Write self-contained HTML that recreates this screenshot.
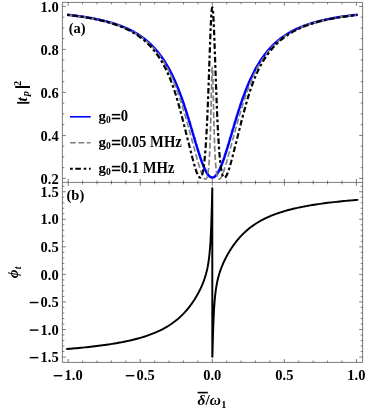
<!DOCTYPE html>
<html><head><meta charset="utf-8"><title>plot</title>
<style>html,body{margin:0;padding:0;background:#fff;}body{width:374px;height:417px;overflow:hidden;font-family:"Liberation Serif",serif;}svg{display:block;will-change:transform;}</style>
</head><body>
<svg width="374" height="417" viewBox="0 0 374 417">
<rect width="374" height="417" fill="#fff"/>
<defs><clipPath id="ct"><rect x="62.4" y="2.4" width="300.20000000000005" height="180.0"/></clipPath></defs>
<g fill="none" stroke-linejoin="round">
<path d="M67.05 14.73 L68.52 14.89 L69.99 15.06 L71.47 15.23 L72.94 15.41 L74.42 15.59 L75.89 15.78 L77.36 15.98 L78.84 16.18 L80.31 16.39 L81.79 16.60 L83.26 16.82 L84.73 17.05 L86.21 17.28 L87.68 17.52 L89.15 17.77 L90.63 18.03 L92.10 18.30 L93.58 18.57 L95.05 18.86 L96.52 19.15 L98.00 19.46 L99.47 19.78 L100.95 20.11 L102.42 20.44 L103.89 20.80 L105.37 21.16 L106.84 21.54 L108.31 21.93 L109.79 22.34 L111.26 22.77 L112.74 23.21 L114.21 23.66 L115.68 24.14 L117.16 24.63 L118.63 25.15 L120.11 25.68 L121.58 26.24 L123.05 26.83 L124.53 27.43 L126.00 28.06 L127.47 28.72 L128.95 29.41 L130.42 30.13 L131.90 30.89 L133.37 31.67 L134.84 32.50 L136.32 33.36 L137.79 34.26 L139.27 35.20 L140.74 36.19 L142.21 37.23 L143.69 38.32 L145.16 39.46 L146.63 40.66 L148.11 41.93 L149.58 43.25 L151.06 44.64 L152.53 46.11 L154.00 47.65 L155.48 49.28 L156.95 50.99 L158.42 52.79 L159.90 54.69 L161.37 56.69 L162.85 58.81 L164.32 61.03 L165.79 63.38 L167.27 65.85 L168.74 68.46 L170.22 71.21 L171.69 74.10 L173.16 77.15 L174.64 80.35 L176.11 83.72 L177.58 87.26 L179.06 90.97 L180.53 94.85 L182.01 98.90 L183.48 103.12 L183.55 103.33 L183.62 103.54 L183.70 103.75 L183.77 103.96 L183.84 104.17 L183.91 104.39 L183.98 104.60 L184.06 104.81 L184.13 105.03 L184.20 105.24 L184.27 105.45 L184.34 105.67 L184.42 105.88 L184.49 106.10 L184.56 106.32 L184.63 106.53 L184.70 106.75 L184.78 106.97 L184.85 107.18 L184.92 107.40 L184.99 107.62 L185.07 107.84 L185.14 108.06 L185.21 108.28 L185.28 108.49 L185.35 108.71 L185.43 108.93 L185.50 109.16 L185.57 109.38 L185.64 109.60 L185.71 109.82 L185.79 110.04 L185.86 110.26 L185.93 110.49 L186.00 110.71 L186.07 110.93 L186.15 111.16 L186.22 111.38 L186.29 111.60 L186.36 111.83 L186.43 112.05 L186.51 112.28 L186.58 112.51 L186.65 112.73 L186.72 112.96 L186.79 113.18 L186.87 113.41 L186.94 113.64 L187.01 113.87 L187.08 114.09 L187.15 114.32 L187.23 114.55 L187.30 114.78 L187.37 115.01 L187.44 115.24 L187.51 115.47 L187.59 115.70 L187.66 115.93 L187.73 116.16 L187.80 116.39 L187.88 116.62 L187.95 116.85 L188.02 117.09 L188.09 117.32 L188.16 117.55 L188.24 117.78 L188.31 118.02 L188.38 118.25 L188.45 118.48 L188.52 118.72 L188.60 118.95 L188.67 119.19 L188.74 119.42 L188.81 119.66 L188.88 119.89 L188.96 120.13 L189.03 120.36 L189.10 120.60 L189.17 120.83 L189.24 121.07 L189.32 121.31 L189.39 121.54 L189.46 121.78 L189.53 122.02 L189.60 122.26 L189.68 122.49 L189.75 122.73 L189.82 122.97 L189.89 123.21 L189.96 123.45 L190.04 123.68 L190.11 123.92 L190.18 124.16 L190.25 124.40 L190.32 124.64 L190.40 124.88 L190.47 125.12 L190.54 125.36 L190.61 125.60 L190.69 125.84 L190.76 126.08 L190.83 126.32 L190.90 126.56 L190.97 126.81 L191.05 127.05 L191.12 127.29 L191.19 127.53 L191.26 127.77 L191.33 128.01 L191.41 128.26 L191.48 128.50 L191.55 128.74 L191.62 128.98 L191.69 129.22 L191.77 129.47 L191.84 129.71 L191.91 129.95 L191.98 130.20 L192.05 130.44 L192.13 130.68 L192.20 130.92 L192.27 131.17 L192.34 131.41 L192.41 131.65 L192.49 131.90 L192.56 132.14 L192.63 132.38 L192.70 132.63 L192.77 132.87 L192.85 133.12 L192.92 133.36 L192.99 133.60 L193.06 133.85 L193.13 134.09 L193.21 134.33 L193.28 134.58 L193.35 134.82 L193.42 135.07 L193.49 135.31 L193.57 135.55 L193.64 135.80 L193.71 136.04 L193.78 136.28 L193.86 136.53 L193.93 136.77 L194.00 137.01 L194.07 137.26 L194.14 137.50 L194.22 137.74 L194.29 137.99 L194.36 138.23 L194.43 138.47 L194.50 138.72 L194.58 138.96 L194.65 139.20 L194.72 139.45 L194.79 139.69 L194.86 139.93 L194.94 140.17 L195.01 140.42 L195.08 140.66 L195.15 140.90 L195.22 141.14 L195.30 141.38 L195.37 141.63 L195.44 141.87 L195.51 142.11 L195.58 142.35 L195.66 142.59 L195.73 142.83 L195.80 143.07 L195.87 143.31 L195.94 143.55 L196.02 143.79 L196.09 144.03 L196.16 144.27 L196.23 144.51 L196.30 144.75 L196.38 144.99 L196.45 145.23 L196.52 145.46 L196.59 145.70 L196.67 145.94 L196.74 146.18 L196.81 146.41 L196.88 146.65 L196.95 146.89 L197.03 147.12 L197.10 147.36 L197.17 147.59 L197.24 147.83 L197.31 148.06 L197.39 148.30 L197.46 148.53 L197.53 148.77 L197.60 149.00 L197.67 149.23 L197.75 149.47 L197.82 149.70 L197.89 149.93 L197.96 150.16 L198.03 150.39 L198.11 150.62 L198.18 150.85 L198.25 151.08 L198.32 151.31 L198.39 151.54 L198.47 151.77 L198.54 152.00 L198.61 152.22 L198.68 152.45 L198.75 152.68 L198.83 152.90 L198.90 153.13 L198.97 153.35 L199.04 153.58 L199.11 153.80 L199.19 154.02 L199.26 154.25 L199.33 154.47 L199.40 154.69 L199.48 154.91 L199.55 155.13 L199.62 155.35 L199.69 155.57 L199.76 155.79 L199.84 156.01 L199.91 156.22 L199.98 156.44 L200.05 156.66 L200.12 156.87 L200.20 157.09 L200.27 157.30 L200.34 157.51 L200.41 157.73 L200.48 157.94 L200.56 158.15 L200.63 158.36 L200.70 158.57 L200.77 158.78 L200.84 158.99 L200.92 159.20 L200.99 159.40 L201.06 159.61 L201.13 159.81 L201.20 160.02 L201.28 160.22 L201.35 160.43 L201.42 160.63 L201.49 160.83 L201.56 161.03 L201.64 161.23 L201.71 161.43 L201.78 161.63 L201.85 161.82 L201.92 162.02 L202.00 162.22 L202.07 162.41 L202.14 162.61 L202.21 162.80 L202.29 162.99 L202.36 163.18 L202.43 163.37 L202.50 163.56 L202.57 163.75 L202.65 163.94 L202.72 164.12 L202.79 164.31 L202.86 164.49 L202.93 164.68 L203.01 164.86 L203.08 165.04 L203.15 165.22 L203.22 165.40 L203.29 165.58 L203.37 165.76 L203.44 165.93 L203.51 166.11 L203.58 166.28 L203.65 166.46 L203.73 166.63 L203.80 166.80 L203.87 166.97 L203.94 167.14 L204.01 167.31 L204.09 167.47 L204.16 167.64 L204.23 167.80 L204.30 167.97 L204.37 168.13 L204.45 168.29 L204.52 168.45 L204.59 168.61 L204.66 168.77 L204.73 168.92 L204.81 169.08 L204.88 169.23 L204.95 169.39 L205.02 169.54 L205.09 169.69 L205.17 169.84 L205.24 169.98 L205.31 170.13 L205.38 170.28 L205.46 170.42 L205.53 170.56 L205.60 170.71 L205.67 170.85 L205.74 170.99 L205.82 171.12 L205.89 171.26 L205.96 171.40 L206.03 171.53 L206.10 171.66 L206.18 171.79 L206.25 171.92 L206.32 172.05 L206.39 172.18 L206.46 172.31 L206.54 172.43 L206.61 172.55 L206.68 172.67 L206.75 172.80 L206.82 172.91 L206.90 173.03 L206.97 173.15 L207.04 173.26 L207.11 173.38 L207.18 173.49 L207.26 173.60 L207.33 173.71 L207.40 173.82 L207.47 173.92 L207.54 174.03 L207.62 174.13 L207.69 174.23 L207.76 174.33 L207.83 174.43 L207.90 174.53 L207.98 174.63 L208.05 174.72 L208.12 174.82 L208.19 174.91 L208.27 175.00 L208.34 175.09 L208.41 175.17 L208.48 175.26 L208.55 175.34 L208.63 175.43 L208.70 175.51 L208.77 175.59 L208.84 175.66 L208.91 175.74 L208.99 175.82 L209.06 175.89 L209.13 175.96 L209.20 176.03 L209.27 176.10 L209.35 176.17 L209.42 176.23 L209.49 176.30 L209.56 176.36 L209.63 176.42 L209.71 176.48 L209.78 176.54 L209.85 176.59 L209.92 176.65 L209.99 176.70 L210.07 176.75 L210.14 176.80 L210.21 176.85 L210.28 176.90 L210.35 176.94 L210.43 176.99 L210.50 177.03 L210.57 177.07 L210.64 177.11 L210.71 177.14 L210.79 177.18 L210.86 177.21 L210.93 177.24 L211.00 177.27 L211.08 177.30 L211.15 177.33 L211.22 177.36 L211.29 177.38 L211.36 177.40 L211.44 177.42 L211.51 177.44 L211.58 177.46 L211.65 177.47 L211.72 177.49 L211.80 177.50 L211.87 177.51 L211.94 177.52 L212.01 177.53 L212.08 177.53 L212.16 177.54 L212.23 177.54 L212.30 177.54 L212.37 177.54 L212.44 177.54 L212.52 177.53 L212.59 177.53 L212.66 177.52 L212.73 177.51 L212.80 177.50 L212.88 177.49 L212.95 177.47 L213.02 177.46 L213.09 177.44 L213.16 177.42 L213.24 177.40 L213.31 177.38 L213.38 177.36 L213.45 177.33 L213.52 177.30 L213.60 177.27 L213.67 177.24 L213.74 177.21 L213.81 177.18 L213.89 177.14 L213.96 177.11 L214.03 177.07 L214.10 177.03 L214.17 176.99 L214.25 176.94 L214.32 176.90 L214.39 176.85 L214.46 176.80 L214.53 176.75 L214.61 176.70 L214.68 176.65 L214.75 176.59 L214.82 176.54 L214.89 176.48 L214.97 176.42 L215.04 176.36 L215.11 176.30 L215.18 176.23 L215.25 176.17 L215.33 176.10 L215.40 176.03 L215.47 175.96 L215.54 175.89 L215.61 175.82 L215.69 175.74 L215.76 175.66 L215.83 175.59 L215.90 175.51 L215.97 175.43 L216.05 175.34 L216.12 175.26 L216.19 175.17 L216.26 175.09 L216.33 175.00 L216.41 174.91 L216.48 174.82 L216.55 174.72 L216.62 174.63 L216.70 174.53 L216.77 174.43 L216.84 174.33 L216.91 174.23 L216.98 174.13 L217.06 174.03 L217.13 173.92 L217.20 173.82 L217.27 173.71 L217.34 173.60 L217.42 173.49 L217.49 173.38 L217.56 173.26 L217.63 173.15 L217.70 173.03 L217.78 172.91 L217.85 172.80 L217.92 172.67 L217.99 172.55 L218.06 172.43 L218.14 172.31 L218.21 172.18 L218.28 172.05 L218.35 171.92 L218.42 171.79 L218.50 171.66 L218.57 171.53 L218.64 171.40 L218.71 171.26 L218.78 171.12 L218.86 170.99 L218.93 170.85 L219.00 170.71 L219.07 170.56 L219.14 170.42 L219.22 170.28 L219.29 170.13 L219.36 169.98 L219.43 169.84 L219.50 169.69 L219.58 169.54 L219.65 169.39 L219.72 169.23 L219.79 169.08 L219.87 168.92 L219.94 168.77 L220.01 168.61 L220.08 168.45 L220.15 168.29 L220.23 168.13 L220.30 167.97 L220.37 167.80 L220.44 167.64 L220.51 167.47 L220.59 167.31 L220.66 167.14 L220.73 166.97 L220.80 166.80 L220.87 166.63 L220.95 166.46 L221.02 166.28 L221.09 166.11 L221.16 165.93 L221.23 165.76 L221.31 165.58 L221.38 165.40 L221.45 165.22 L221.52 165.04 L221.59 164.86 L221.67 164.68 L221.74 164.49 L221.81 164.31 L221.88 164.12 L221.95 163.94 L222.03 163.75 L222.10 163.56 L222.17 163.37 L222.24 163.18 L222.31 162.99 L222.39 162.80 L222.46 162.61 L222.53 162.41 L222.60 162.22 L222.68 162.02 L222.75 161.82 L222.82 161.63 L222.89 161.43 L222.96 161.23 L223.04 161.03 L223.11 160.83 L223.18 160.63 L223.25 160.43 L223.32 160.22 L223.40 160.02 L223.47 159.81 L223.54 159.61 L223.61 159.40 L223.68 159.20 L223.76 158.99 L223.83 158.78 L223.90 158.57 L223.97 158.36 L224.04 158.15 L224.12 157.94 L224.19 157.73 L224.26 157.51 L224.33 157.30 L224.40 157.09 L224.48 156.87 L224.55 156.66 L224.62 156.44 L224.69 156.22 L224.76 156.01 L224.84 155.79 L224.91 155.57 L224.98 155.35 L225.05 155.13 L225.12 154.91 L225.20 154.69 L225.27 154.47 L225.34 154.25 L225.41 154.02 L225.49 153.80 L225.56 153.58 L225.63 153.35 L225.70 153.13 L225.77 152.90 L225.85 152.68 L225.92 152.45 L225.99 152.22 L226.06 152.00 L226.13 151.77 L226.21 151.54 L226.28 151.31 L226.35 151.08 L226.42 150.85 L226.49 150.62 L226.57 150.39 L226.64 150.16 L226.71 149.93 L226.78 149.70 L226.85 149.47 L226.93 149.23 L227.00 149.00 L227.07 148.77 L227.14 148.53 L227.21 148.30 L227.29 148.06 L227.36 147.83 L227.43 147.59 L227.50 147.36 L227.57 147.12 L227.65 146.89 L227.72 146.65 L227.79 146.41 L227.86 146.18 L227.93 145.94 L228.01 145.70 L228.08 145.46 L228.15 145.23 L228.22 144.99 L228.30 144.75 L228.37 144.51 L228.44 144.27 L228.51 144.03 L228.58 143.79 L228.66 143.55 L228.73 143.31 L228.80 143.07 L228.87 142.83 L228.94 142.59 L229.02 142.35 L229.09 142.11 L229.16 141.87 L229.23 141.63 L229.30 141.38 L229.38 141.14 L229.45 140.90 L229.52 140.66 L229.59 140.42 L229.66 140.17 L229.74 139.93 L229.81 139.69 L229.88 139.45 L229.95 139.20 L230.02 138.96 L230.10 138.72 L230.17 138.47 L230.24 138.23 L230.31 137.99 L230.38 137.74 L230.46 137.50 L230.53 137.26 L230.60 137.01 L230.67 136.77 L230.74 136.53 L230.82 136.28 L230.89 136.04 L230.96 135.80 L231.03 135.55 L231.11 135.31 L231.18 135.07 L231.25 134.82 L231.32 134.58 L231.39 134.33 L231.47 134.09 L231.54 133.85 L231.61 133.60 L231.68 133.36 L231.75 133.12 L231.83 132.87 L231.90 132.63 L231.97 132.38 L232.04 132.14 L232.11 131.90 L232.19 131.65 L232.26 131.41 L232.33 131.17 L232.40 130.92 L232.47 130.68 L232.55 130.44 L232.62 130.20 L232.69 129.95 L232.76 129.71 L232.83 129.47 L232.91 129.22 L232.98 128.98 L233.05 128.74 L233.12 128.50 L233.19 128.26 L233.27 128.01 L233.34 127.77 L233.41 127.53 L233.48 127.29 L233.55 127.05 L233.63 126.81 L233.70 126.56 L233.77 126.32 L233.84 126.08 L233.92 125.84 L233.99 125.60 L234.06 125.36 L234.13 125.12 L234.20 124.88 L234.28 124.64 L234.35 124.40 L234.42 124.16 L234.49 123.92 L234.56 123.68 L234.64 123.45 L234.71 123.21 L234.78 122.97 L234.85 122.73 L234.92 122.49 L235.00 122.26 L235.07 122.02 L235.14 121.78 L235.21 121.54 L235.28 121.31 L235.36 121.07 L235.43 120.83 L235.50 120.60 L235.57 120.36 L235.64 120.13 L235.72 119.89 L235.79 119.66 L235.86 119.42 L235.93 119.19 L236.00 118.95 L236.08 118.72 L236.15 118.48 L236.22 118.25 L236.29 118.02 L236.36 117.78 L236.44 117.55 L236.51 117.32 L236.58 117.09 L236.65 116.85 L236.72 116.62 L236.80 116.39 L236.87 116.16 L236.94 115.93 L237.01 115.70 L237.09 115.47 L237.16 115.24 L237.23 115.01 L237.30 114.78 L237.37 114.55 L237.45 114.32 L237.52 114.09 L237.59 113.87 L237.66 113.64 L237.73 113.41 L237.81 113.18 L237.88 112.96 L237.95 112.73 L238.02 112.51 L238.09 112.28 L238.17 112.05 L238.24 111.83 L238.31 111.60 L238.38 111.38 L238.45 111.16 L238.53 110.93 L238.60 110.71 L238.67 110.49 L238.74 110.26 L238.81 110.04 L238.89 109.82 L238.96 109.60 L239.03 109.38 L239.10 109.16 L239.17 108.93 L239.25 108.71 L239.32 108.49 L239.39 108.28 L239.46 108.06 L239.53 107.84 L239.61 107.62 L239.68 107.40 L239.75 107.18 L239.82 106.97 L239.90 106.75 L239.97 106.53 L240.04 106.32 L240.11 106.10 L240.18 105.88 L240.26 105.67 L240.33 105.45 L240.40 105.24 L240.47 105.03 L240.54 104.81 L240.62 104.60 L240.69 104.39 L240.76 104.17 L240.83 103.96 L240.90 103.75 L240.98 103.54 L241.05 103.33 L241.12 103.12 L242.59 98.90 L244.07 94.85 L245.54 90.97 L247.02 87.26 L248.49 83.72 L249.96 80.35 L251.44 77.15 L252.91 74.10 L254.38 71.21 L255.86 68.46 L257.33 65.85 L258.81 63.38 L260.28 61.03 L261.75 58.81 L263.23 56.69 L264.70 54.69 L266.18 52.79 L267.65 50.99 L269.12 49.28 L270.60 47.65 L272.07 46.11 L273.54 44.64 L275.02 43.25 L276.49 41.93 L277.97 40.66 L279.44 39.46 L280.91 38.32 L282.39 37.23 L283.86 36.19 L285.33 35.20 L286.81 34.26 L288.28 33.36 L289.76 32.50 L291.23 31.67 L292.70 30.89 L294.18 30.13 L295.65 29.41 L297.13 28.72 L298.60 28.06 L300.07 27.43 L301.55 26.83 L303.02 26.24 L304.49 25.68 L305.97 25.15 L307.44 24.63 L308.92 24.14 L310.39 23.66 L311.86 23.21 L313.34 22.77 L314.81 22.34 L316.29 21.93 L317.76 21.54 L319.23 21.16 L320.71 20.80 L322.18 20.44 L323.65 20.11 L325.13 19.78 L326.60 19.46 L328.08 19.15 L329.55 18.86 L331.02 18.57 L332.50 18.30 L333.97 18.03 L335.45 17.77 L336.92 17.52 L338.39 17.28 L339.87 17.05 L341.34 16.82 L342.81 16.60 L344.29 16.39 L345.76 16.18 L347.24 15.98 L348.71 15.78 L350.18 15.59 L351.66 15.41 L353.13 15.23 L354.61 15.06 L356.08 14.89 L357.55 14.73" stroke="#0000ff" stroke-width="2.5"/>
<path d="M67.05 14.77 L68.52 14.93 L69.99 15.10 L71.47 15.28 L72.94 15.46 L74.42 15.64 L75.89 15.83 L77.36 16.03 L78.84 16.23 L80.31 16.44 L81.79 16.66 L83.26 16.88 L84.73 17.11 L86.21 17.35 L87.68 17.59 L89.15 17.85 L90.63 18.11 L92.10 18.38 L93.58 18.66 L95.05 18.95 L96.52 19.25 L98.00 19.56 L99.47 19.88 L100.95 20.21 L102.42 20.56 L103.89 20.91 L105.37 21.29 L106.84 21.67 L108.31 22.07 L109.79 22.49 L111.26 22.92 L112.74 23.37 L114.21 23.83 L115.68 24.32 L117.16 24.82 L118.63 25.35 L120.11 25.90 L121.58 26.47 L123.05 27.06 L124.53 27.68 L126.00 28.33 L127.47 29.01 L128.95 29.72 L130.42 30.46 L131.90 31.23 L133.37 32.04 L134.84 32.89 L136.32 33.77 L137.79 34.70 L139.27 35.68 L140.74 36.70 L142.21 37.78 L143.69 38.91 L145.16 40.09 L146.63 41.34 L148.11 42.65 L149.58 44.03 L151.06 45.49 L152.53 47.02 L154.00 48.64 L155.48 50.34 L156.95 52.14 L158.42 54.04 L159.90 56.05 L161.37 58.17 L162.85 60.42 L164.32 62.80 L165.79 65.33 L167.27 68.01 L168.74 70.86 L170.22 73.88 L171.69 77.09 L173.16 80.50 L174.64 84.10 L176.11 87.92 L177.58 91.94 L179.06 96.16 L180.53 100.56 L182.01 105.15 L183.48 109.90 L183.55 110.14 L183.62 110.38 L183.70 110.61 L183.77 110.85 L183.84 111.09 L183.91 111.33 L183.98 111.57 L184.06 111.81 L184.13 112.04 L184.20 112.28 L184.27 112.52 L184.34 112.76 L184.42 113.01 L184.49 113.25 L184.56 113.49 L184.63 113.73 L184.70 113.97 L184.78 114.21 L184.85 114.46 L184.92 114.70 L184.99 114.94 L185.07 115.19 L185.14 115.43 L185.21 115.67 L185.28 115.92 L185.35 116.16 L185.43 116.41 L185.50 116.66 L185.57 116.90 L185.64 117.15 L185.71 117.39 L185.79 117.64 L185.86 117.89 L185.93 118.14 L186.00 118.38 L186.07 118.63 L186.15 118.88 L186.22 119.13 L186.29 119.38 L186.36 119.63 L186.43 119.88 L186.51 120.13 L186.58 120.38 L186.65 120.63 L186.72 120.88 L186.79 121.13 L186.87 121.38 L186.94 121.63 L187.01 121.89 L187.08 122.14 L187.15 122.39 L187.23 122.64 L187.30 122.90 L187.37 123.15 L187.44 123.41 L187.51 123.66 L187.59 123.91 L187.66 124.17 L187.73 124.42 L187.80 124.68 L187.88 124.93 L187.95 125.19 L188.02 125.45 L188.09 125.70 L188.16 125.96 L188.24 126.22 L188.31 126.47 L188.38 126.73 L188.45 126.99 L188.52 127.25 L188.60 127.50 L188.67 127.76 L188.74 128.02 L188.81 128.28 L188.88 128.54 L188.96 128.80 L189.03 129.06 L189.10 129.32 L189.17 129.58 L189.24 129.84 L189.32 130.10 L189.39 130.36 L189.46 130.62 L189.53 130.88 L189.60 131.14 L189.68 131.40 L189.75 131.66 L189.82 131.93 L189.89 132.19 L189.96 132.45 L190.04 132.71 L190.11 132.98 L190.18 133.24 L190.25 133.50 L190.32 133.77 L190.40 134.03 L190.47 134.29 L190.54 134.56 L190.61 134.82 L190.69 135.09 L190.76 135.35 L190.83 135.61 L190.90 135.88 L190.97 136.14 L191.05 136.41 L191.12 136.67 L191.19 136.94 L191.26 137.21 L191.33 137.47 L191.41 137.74 L191.48 138.00 L191.55 138.27 L191.62 138.54 L191.69 138.80 L191.77 139.07 L191.84 139.34 L191.91 139.60 L191.98 139.87 L192.05 140.14 L192.13 140.40 L192.20 140.67 L192.27 140.94 L192.34 141.20 L192.41 141.47 L192.49 141.74 L192.56 142.01 L192.63 142.27 L192.70 142.54 L192.77 142.81 L192.85 143.08 L192.92 143.34 L192.99 143.61 L193.06 143.88 L193.13 144.15 L193.21 144.42 L193.28 144.68 L193.35 144.95 L193.42 145.22 L193.49 145.49 L193.57 145.75 L193.64 146.02 L193.71 146.29 L193.78 146.56 L193.86 146.83 L193.93 147.09 L194.00 147.36 L194.07 147.63 L194.14 147.90 L194.22 148.16 L194.29 148.43 L194.36 148.70 L194.43 148.96 L194.50 149.23 L194.58 149.50 L194.65 149.76 L194.72 150.03 L194.79 150.30 L194.86 150.56 L194.94 150.83 L195.01 151.10 L195.08 151.36 L195.15 151.63 L195.22 151.89 L195.30 152.16 L195.37 152.42 L195.44 152.69 L195.51 152.95 L195.58 153.22 L195.66 153.48 L195.73 153.74 L195.80 154.01 L195.87 154.27 L195.94 154.53 L196.02 154.80 L196.09 155.06 L196.16 155.32 L196.23 155.58 L196.30 155.84 L196.38 156.10 L196.45 156.36 L196.52 156.62 L196.59 156.88 L196.67 157.14 L196.74 157.40 L196.81 157.66 L196.88 157.92 L196.95 158.18 L197.03 158.43 L197.10 158.69 L197.17 158.95 L197.24 159.20 L197.31 159.46 L197.39 159.71 L197.46 159.97 L197.53 160.22 L197.60 160.47 L197.67 160.72 L197.75 160.98 L197.82 161.23 L197.89 161.48 L197.96 161.73 L198.03 161.98 L198.11 162.23 L198.18 162.47 L198.25 162.72 L198.32 162.97 L198.39 163.21 L198.47 163.46 L198.54 163.70 L198.61 163.94 L198.68 164.19 L198.75 164.43 L198.83 164.67 L198.90 164.91 L198.97 165.15 L199.04 165.39 L199.11 165.62 L199.19 165.86 L199.26 166.09 L199.33 166.33 L199.40 166.56 L199.48 166.79 L199.55 167.02 L199.62 167.25 L199.69 167.48 L199.76 167.71 L199.84 167.94 L199.91 168.16 L199.98 168.39 L200.05 168.61 L200.12 168.83 L200.20 169.05 L200.27 169.27 L200.34 169.49 L200.41 169.71 L200.48 169.92 L200.56 170.14 L200.63 170.35 L200.70 170.56 L200.77 170.77 L200.84 170.98 L200.92 171.19 L200.99 171.39 L201.06 171.59 L201.13 171.80 L201.20 172.00 L201.28 172.19 L201.35 172.39 L201.42 172.59 L201.49 172.78 L201.56 172.97 L201.64 173.16 L201.71 173.35 L201.78 173.54 L201.85 173.72 L201.92 173.90 L202.00 174.08 L202.07 174.26 L202.14 174.44 L202.21 174.61 L202.29 174.78 L202.36 174.95 L202.43 175.12 L202.50 175.28 L202.57 175.44 L202.65 175.60 L202.72 175.76 L202.79 175.92 L202.86 176.07 L202.93 176.22 L203.01 176.36 L203.08 176.51 L203.15 176.65 L203.22 176.79 L203.29 176.92 L203.37 177.06 L203.44 177.19 L203.51 177.31 L203.58 177.43 L203.65 177.55 L203.73 177.67 L203.80 177.78 L203.87 177.89 L203.94 178.00 L204.01 178.10 L204.09 178.20 L204.16 178.29 L204.23 178.38 L204.30 178.47 L204.37 178.55 L204.45 178.63 L204.52 178.70 L204.59 178.77 L204.66 178.84 L204.73 178.89 L204.81 178.95 L204.88 179.00 L204.95 179.04 L205.02 179.08 L205.09 179.12 L205.17 179.14 L205.24 179.17 L205.31 179.18 L205.38 179.19 L205.46 179.20 L205.53 179.19 L205.60 179.18 L205.67 179.17 L205.74 179.14 L205.82 179.11 L205.89 179.08 L205.96 179.03 L206.03 178.97 L206.10 178.91 L206.18 178.84 L206.25 178.76 L206.32 178.67 L206.39 178.57 L206.46 178.46 L206.54 178.34 L206.61 178.21 L206.68 178.07 L206.75 177.92 L206.82 177.75 L206.90 177.57 L206.97 177.38 L207.04 177.18 L207.11 176.96 L207.18 176.73 L207.26 176.48 L207.33 176.22 L207.40 175.94 L207.47 175.64 L207.54 175.33 L207.62 174.99 L207.69 174.64 L207.76 174.27 L207.83 173.87 L207.90 173.46 L207.98 173.02 L208.05 172.55 L208.12 172.06 L208.19 171.55 L208.27 171.00 L208.34 170.43 L208.41 169.82 L208.48 169.19 L208.55 168.52 L208.63 167.81 L208.70 167.07 L208.77 166.29 L208.84 165.46 L208.91 164.60 L208.99 163.68 L209.06 162.73 L209.13 161.72 L209.20 160.66 L209.27 159.54 L209.35 158.37 L209.42 157.14 L209.49 155.84 L209.56 154.48 L209.63 153.05 L209.71 151.54 L209.78 149.96 L209.85 148.30 L209.92 146.56 L209.99 144.74 L210.07 142.83 L210.14 140.82 L210.21 138.73 L210.28 136.54 L210.35 134.25 L210.43 131.86 L210.50 129.38 L210.57 126.80 L210.64 124.11 L210.71 121.34 L210.79 118.47 L210.86 115.52 L210.93 112.50 L211.00 109.40 L211.08 106.25 L211.15 103.06 L211.22 99.84 L211.29 96.62 L211.36 93.42 L211.44 90.27 L211.51 87.19 L211.58 84.22 L211.65 81.38 L211.72 78.72 L211.80 76.27 L211.87 74.05 L211.94 72.12 L212.01 70.48 L212.08 69.18 L212.16 68.24 L212.23 67.67 L212.30 67.47 L212.37 67.67 L212.44 68.24 L212.52 69.18 L212.59 70.48 L212.66 72.12 L212.73 74.05 L212.80 76.27 L212.88 78.72 L212.95 81.38 L213.02 84.22 L213.09 87.19 L213.16 90.27 L213.24 93.42 L213.31 96.62 L213.38 99.84 L213.45 103.06 L213.52 106.25 L213.60 109.40 L213.67 112.50 L213.74 115.52 L213.81 118.47 L213.89 121.34 L213.96 124.11 L214.03 126.80 L214.10 129.38 L214.17 131.86 L214.25 134.25 L214.32 136.54 L214.39 138.73 L214.46 140.82 L214.53 142.83 L214.61 144.74 L214.68 146.56 L214.75 148.30 L214.82 149.96 L214.89 151.54 L214.97 153.05 L215.04 154.48 L215.11 155.84 L215.18 157.14 L215.25 158.37 L215.33 159.54 L215.40 160.66 L215.47 161.72 L215.54 162.73 L215.61 163.68 L215.69 164.60 L215.76 165.46 L215.83 166.29 L215.90 167.07 L215.97 167.81 L216.05 168.52 L216.12 169.19 L216.19 169.82 L216.26 170.43 L216.33 171.00 L216.41 171.55 L216.48 172.06 L216.55 172.55 L216.62 173.02 L216.70 173.46 L216.77 173.87 L216.84 174.27 L216.91 174.64 L216.98 174.99 L217.06 175.33 L217.13 175.64 L217.20 175.94 L217.27 176.22 L217.34 176.48 L217.42 176.73 L217.49 176.96 L217.56 177.18 L217.63 177.38 L217.70 177.57 L217.78 177.75 L217.85 177.92 L217.92 178.07 L217.99 178.21 L218.06 178.34 L218.14 178.46 L218.21 178.57 L218.28 178.67 L218.35 178.76 L218.42 178.84 L218.50 178.91 L218.57 178.97 L218.64 179.03 L218.71 179.08 L218.78 179.11 L218.86 179.14 L218.93 179.17 L219.00 179.18 L219.07 179.19 L219.14 179.20 L219.22 179.19 L219.29 179.18 L219.36 179.17 L219.43 179.14 L219.50 179.12 L219.58 179.08 L219.65 179.04 L219.72 179.00 L219.79 178.95 L219.87 178.89 L219.94 178.84 L220.01 178.77 L220.08 178.70 L220.15 178.63 L220.23 178.55 L220.30 178.47 L220.37 178.38 L220.44 178.29 L220.51 178.20 L220.59 178.10 L220.66 178.00 L220.73 177.89 L220.80 177.78 L220.87 177.67 L220.95 177.55 L221.02 177.43 L221.09 177.31 L221.16 177.19 L221.23 177.06 L221.31 176.92 L221.38 176.79 L221.45 176.65 L221.52 176.51 L221.59 176.36 L221.67 176.22 L221.74 176.07 L221.81 175.92 L221.88 175.76 L221.95 175.60 L222.03 175.44 L222.10 175.28 L222.17 175.12 L222.24 174.95 L222.31 174.78 L222.39 174.61 L222.46 174.44 L222.53 174.26 L222.60 174.08 L222.68 173.90 L222.75 173.72 L222.82 173.54 L222.89 173.35 L222.96 173.16 L223.04 172.97 L223.11 172.78 L223.18 172.59 L223.25 172.39 L223.32 172.19 L223.40 172.00 L223.47 171.80 L223.54 171.59 L223.61 171.39 L223.68 171.19 L223.76 170.98 L223.83 170.77 L223.90 170.56 L223.97 170.35 L224.04 170.14 L224.12 169.92 L224.19 169.71 L224.26 169.49 L224.33 169.27 L224.40 169.05 L224.48 168.83 L224.55 168.61 L224.62 168.39 L224.69 168.16 L224.76 167.94 L224.84 167.71 L224.91 167.48 L224.98 167.25 L225.05 167.02 L225.12 166.79 L225.20 166.56 L225.27 166.33 L225.34 166.09 L225.41 165.86 L225.49 165.62 L225.56 165.39 L225.63 165.15 L225.70 164.91 L225.77 164.67 L225.85 164.43 L225.92 164.19 L225.99 163.94 L226.06 163.70 L226.13 163.46 L226.21 163.21 L226.28 162.97 L226.35 162.72 L226.42 162.47 L226.49 162.23 L226.57 161.98 L226.64 161.73 L226.71 161.48 L226.78 161.23 L226.85 160.98 L226.93 160.72 L227.00 160.47 L227.07 160.22 L227.14 159.97 L227.21 159.71 L227.29 159.46 L227.36 159.20 L227.43 158.95 L227.50 158.69 L227.57 158.43 L227.65 158.18 L227.72 157.92 L227.79 157.66 L227.86 157.40 L227.93 157.14 L228.01 156.88 L228.08 156.62 L228.15 156.36 L228.22 156.10 L228.30 155.84 L228.37 155.58 L228.44 155.32 L228.51 155.06 L228.58 154.80 L228.66 154.53 L228.73 154.27 L228.80 154.01 L228.87 153.74 L228.94 153.48 L229.02 153.22 L229.09 152.95 L229.16 152.69 L229.23 152.42 L229.30 152.16 L229.38 151.89 L229.45 151.63 L229.52 151.36 L229.59 151.10 L229.66 150.83 L229.74 150.56 L229.81 150.30 L229.88 150.03 L229.95 149.76 L230.02 149.50 L230.10 149.23 L230.17 148.96 L230.24 148.70 L230.31 148.43 L230.38 148.16 L230.46 147.90 L230.53 147.63 L230.60 147.36 L230.67 147.09 L230.74 146.83 L230.82 146.56 L230.89 146.29 L230.96 146.02 L231.03 145.75 L231.11 145.49 L231.18 145.22 L231.25 144.95 L231.32 144.68 L231.39 144.42 L231.47 144.15 L231.54 143.88 L231.61 143.61 L231.68 143.34 L231.75 143.08 L231.83 142.81 L231.90 142.54 L231.97 142.27 L232.04 142.01 L232.11 141.74 L232.19 141.47 L232.26 141.20 L232.33 140.94 L232.40 140.67 L232.47 140.40 L232.55 140.14 L232.62 139.87 L232.69 139.60 L232.76 139.34 L232.83 139.07 L232.91 138.80 L232.98 138.54 L233.05 138.27 L233.12 138.00 L233.19 137.74 L233.27 137.47 L233.34 137.21 L233.41 136.94 L233.48 136.67 L233.55 136.41 L233.63 136.14 L233.70 135.88 L233.77 135.61 L233.84 135.35 L233.92 135.09 L233.99 134.82 L234.06 134.56 L234.13 134.29 L234.20 134.03 L234.28 133.77 L234.35 133.50 L234.42 133.24 L234.49 132.98 L234.56 132.71 L234.64 132.45 L234.71 132.19 L234.78 131.93 L234.85 131.66 L234.92 131.40 L235.00 131.14 L235.07 130.88 L235.14 130.62 L235.21 130.36 L235.28 130.10 L235.36 129.84 L235.43 129.58 L235.50 129.32 L235.57 129.06 L235.64 128.80 L235.72 128.54 L235.79 128.28 L235.86 128.02 L235.93 127.76 L236.00 127.50 L236.08 127.25 L236.15 126.99 L236.22 126.73 L236.29 126.47 L236.36 126.22 L236.44 125.96 L236.51 125.70 L236.58 125.45 L236.65 125.19 L236.72 124.93 L236.80 124.68 L236.87 124.42 L236.94 124.17 L237.01 123.91 L237.09 123.66 L237.16 123.41 L237.23 123.15 L237.30 122.90 L237.37 122.64 L237.45 122.39 L237.52 122.14 L237.59 121.89 L237.66 121.63 L237.73 121.38 L237.81 121.13 L237.88 120.88 L237.95 120.63 L238.02 120.38 L238.09 120.13 L238.17 119.88 L238.24 119.63 L238.31 119.38 L238.38 119.13 L238.45 118.88 L238.53 118.63 L238.60 118.38 L238.67 118.14 L238.74 117.89 L238.81 117.64 L238.89 117.39 L238.96 117.15 L239.03 116.90 L239.10 116.66 L239.17 116.41 L239.25 116.16 L239.32 115.92 L239.39 115.67 L239.46 115.43 L239.53 115.19 L239.61 114.94 L239.68 114.70 L239.75 114.46 L239.82 114.21 L239.90 113.97 L239.97 113.73 L240.04 113.49 L240.11 113.25 L240.18 113.01 L240.26 112.76 L240.33 112.52 L240.40 112.28 L240.47 112.04 L240.54 111.81 L240.62 111.57 L240.69 111.33 L240.76 111.09 L240.83 110.85 L240.90 110.61 L240.98 110.38 L241.05 110.14 L241.12 109.90 L242.59 105.15 L244.07 100.56 L245.54 96.16 L247.02 91.94 L248.49 87.92 L249.96 84.10 L251.44 80.50 L252.91 77.09 L254.38 73.88 L255.86 70.86 L257.33 68.01 L258.81 65.33 L260.28 62.80 L261.75 60.42 L263.23 58.17 L264.70 56.05 L266.18 54.04 L267.65 52.14 L269.12 50.34 L270.60 48.64 L272.07 47.02 L273.54 45.49 L275.02 44.03 L276.49 42.65 L277.97 41.34 L279.44 40.09 L280.91 38.91 L282.39 37.78 L283.86 36.70 L285.33 35.68 L286.81 34.70 L288.28 33.77 L289.76 32.89 L291.23 32.04 L292.70 31.23 L294.18 30.46 L295.65 29.72 L297.13 29.01 L298.60 28.33 L300.07 27.68 L301.55 27.06 L303.02 26.47 L304.49 25.90 L305.97 25.35 L307.44 24.82 L308.92 24.32 L310.39 23.83 L311.86 23.37 L313.34 22.92 L314.81 22.49 L316.29 22.07 L317.76 21.67 L319.23 21.29 L320.71 20.91 L322.18 20.56 L323.65 20.21 L325.13 19.88 L326.60 19.56 L328.08 19.25 L329.55 18.95 L331.02 18.66 L332.50 18.38 L333.97 18.11 L335.45 17.85 L336.92 17.59 L338.39 17.35 L339.87 17.11 L341.34 16.88 L342.81 16.66 L344.29 16.44 L345.76 16.23 L347.24 16.03 L348.71 15.83 L350.18 15.64 L351.66 15.46 L353.13 15.28 L354.61 15.10 L356.08 14.93 L357.55 14.77" stroke="#808080" stroke-width="1.7" stroke-dasharray="5.8 2.6" clip-path="url(#ct)"/>
<path d="M67.05 14.84 L68.52 15.01 L69.99 15.18 L71.47 15.36 L72.94 15.54 L74.42 15.73 L75.89 15.92 L77.36 16.12 L78.84 16.33 L80.31 16.55 L81.79 16.77 L83.26 16.99 L84.73 17.23 L86.21 17.47 L87.68 17.72 L89.15 17.98 L90.63 18.25 L92.10 18.53 L93.58 18.81 L95.05 19.11 L96.52 19.42 L98.00 19.73 L99.47 20.07 L100.95 20.41 L102.42 20.76 L103.89 21.13 L105.37 21.51 L106.84 21.91 L108.31 22.32 L109.79 22.75 L111.26 23.20 L112.74 23.66 L114.21 24.14 L115.68 24.65 L117.16 25.17 L118.63 25.72 L120.11 26.29 L121.58 26.88 L123.05 27.50 L124.53 28.15 L126.00 28.83 L127.47 29.54 L128.95 30.28 L130.42 31.05 L131.90 31.86 L133.37 32.72 L134.84 33.61 L136.32 34.55 L137.79 35.53 L139.27 36.56 L140.74 37.65 L142.21 38.79 L143.69 40.00 L145.16 41.26 L146.63 42.60 L148.11 44.01 L149.58 45.49 L151.06 47.06 L152.53 48.72 L154.00 50.48 L155.48 52.34 L156.95 54.30 L158.42 56.39 L159.90 58.61 L161.37 60.97 L162.85 63.48 L164.32 66.16 L165.79 69.03 L167.27 72.11 L168.74 75.41 L170.22 78.96 L171.69 82.77 L173.16 86.87 L174.64 91.25 L176.11 95.91 L177.58 100.85 L179.06 106.02 L180.53 111.40 L182.01 116.95 L183.48 122.63 L183.55 122.91 L183.62 123.19 L183.70 123.47 L183.77 123.75 L183.84 124.03 L183.91 124.32 L183.98 124.60 L184.06 124.88 L184.13 125.16 L184.20 125.44 L184.27 125.72 L184.34 126.01 L184.42 126.29 L184.49 126.57 L184.56 126.85 L184.63 127.14 L184.70 127.42 L184.78 127.70 L184.85 127.98 L184.92 128.27 L184.99 128.55 L185.07 128.84 L185.14 129.12 L185.21 129.40 L185.28 129.69 L185.35 129.97 L185.43 130.26 L185.50 130.54 L185.57 130.82 L185.64 131.11 L185.71 131.39 L185.79 131.68 L185.86 131.96 L185.93 132.25 L186.00 132.53 L186.07 132.82 L186.15 133.10 L186.22 133.39 L186.29 133.67 L186.36 133.96 L186.43 134.24 L186.51 134.53 L186.58 134.82 L186.65 135.10 L186.72 135.39 L186.79 135.67 L186.87 135.96 L186.94 136.24 L187.01 136.53 L187.08 136.82 L187.15 137.10 L187.23 137.39 L187.30 137.67 L187.37 137.96 L187.44 138.25 L187.51 138.53 L187.59 138.82 L187.66 139.10 L187.73 139.39 L187.80 139.68 L187.88 139.96 L187.95 140.25 L188.02 140.54 L188.09 140.82 L188.16 141.11 L188.24 141.39 L188.31 141.68 L188.38 141.97 L188.45 142.25 L188.52 142.54 L188.60 142.82 L188.67 143.11 L188.74 143.40 L188.81 143.68 L188.88 143.97 L188.96 144.25 L189.03 144.54 L189.10 144.82 L189.17 145.11 L189.24 145.39 L189.32 145.68 L189.39 145.97 L189.46 146.25 L189.53 146.54 L189.60 146.82 L189.68 147.10 L189.75 147.39 L189.82 147.67 L189.89 147.96 L189.96 148.24 L190.04 148.53 L190.11 148.81 L190.18 149.09 L190.25 149.38 L190.32 149.66 L190.40 149.94 L190.47 150.23 L190.54 150.51 L190.61 150.79 L190.69 151.07 L190.76 151.36 L190.83 151.64 L190.90 151.92 L190.97 152.20 L191.05 152.48 L191.12 152.76 L191.19 153.04 L191.26 153.32 L191.33 153.60 L191.41 153.88 L191.48 154.16 L191.55 154.44 L191.62 154.72 L191.69 155.00 L191.77 155.27 L191.84 155.55 L191.91 155.83 L191.98 156.10 L192.05 156.38 L192.13 156.65 L192.20 156.93 L192.27 157.20 L192.34 157.48 L192.41 157.75 L192.49 158.02 L192.56 158.30 L192.63 158.57 L192.70 158.84 L192.77 159.11 L192.85 159.38 L192.92 159.65 L192.99 159.92 L193.06 160.19 L193.13 160.45 L193.21 160.72 L193.28 160.98 L193.35 161.25 L193.42 161.51 L193.49 161.78 L193.57 162.04 L193.64 162.30 L193.71 162.56 L193.78 162.82 L193.86 163.08 L193.93 163.34 L194.00 163.60 L194.07 163.85 L194.14 164.11 L194.22 164.36 L194.29 164.61 L194.36 164.87 L194.43 165.12 L194.50 165.37 L194.58 165.61 L194.65 165.86 L194.72 166.11 L194.79 166.35 L194.86 166.59 L194.94 166.84 L195.01 167.08 L195.08 167.31 L195.15 167.55 L195.22 167.79 L195.30 168.02 L195.37 168.26 L195.44 168.49 L195.51 168.72 L195.58 168.94 L195.66 169.17 L195.73 169.39 L195.80 169.62 L195.87 169.84 L195.94 170.06 L196.02 170.27 L196.09 170.49 L196.16 170.70 L196.23 170.91 L196.30 171.12 L196.38 171.33 L196.45 171.53 L196.52 171.73 L196.59 171.93 L196.67 172.13 L196.74 172.33 L196.81 172.52 L196.88 172.71 L196.95 172.90 L197.03 173.08 L197.10 173.26 L197.17 173.44 L197.24 173.62 L197.31 173.80 L197.39 173.97 L197.46 174.13 L197.53 174.30 L197.60 174.46 L197.67 174.62 L197.75 174.78 L197.82 174.93 L197.89 175.08 L197.96 175.22 L198.03 175.36 L198.11 175.50 L198.18 175.64 L198.25 175.77 L198.32 175.89 L198.39 176.02 L198.47 176.14 L198.54 176.25 L198.61 176.36 L198.68 176.47 L198.75 176.57 L198.83 176.67 L198.90 176.77 L198.97 176.86 L199.04 176.94 L199.11 177.02 L199.19 177.10 L199.26 177.17 L199.33 177.23 L199.40 177.29 L199.48 177.35 L199.55 177.40 L199.62 177.44 L199.69 177.48 L199.76 177.51 L199.84 177.54 L199.91 177.56 L199.98 177.58 L200.05 177.59 L200.12 177.59 L200.20 177.59 L200.27 177.58 L200.34 177.57 L200.41 177.55 L200.48 177.52 L200.56 177.48 L200.63 177.44 L200.70 177.39 L200.77 177.33 L200.84 177.27 L200.92 177.20 L200.99 177.12 L201.06 177.03 L201.13 176.93 L201.20 176.83 L201.28 176.72 L201.35 176.60 L201.42 176.47 L201.49 176.33 L201.56 176.19 L201.64 176.03 L201.71 175.87 L201.78 175.69 L201.85 175.51 L201.92 175.32 L202.00 175.11 L202.07 174.90 L202.14 174.68 L202.21 174.44 L202.29 174.20 L202.36 173.94 L202.43 173.68 L202.50 173.40 L202.57 173.11 L202.65 172.81 L202.72 172.50 L202.79 172.17 L202.86 171.84 L202.93 171.49 L203.01 171.13 L203.08 170.75 L203.15 170.36 L203.22 169.96 L203.29 169.55 L203.37 169.12 L203.44 168.68 L203.51 168.22 L203.58 167.75 L203.65 167.26 L203.73 166.76 L203.80 166.24 L203.87 165.71 L203.94 165.17 L204.01 164.60 L204.09 164.02 L204.16 163.42 L204.23 162.81 L204.30 162.18 L204.37 161.53 L204.45 160.87 L204.52 160.18 L204.59 159.48 L204.66 158.76 L204.73 158.02 L204.81 157.26 L204.88 156.49 L204.95 155.69 L205.02 154.87 L205.09 154.03 L205.17 153.18 L205.24 152.30 L205.31 151.40 L205.38 150.48 L205.46 149.53 L205.53 148.57 L205.60 147.58 L205.67 146.57 L205.74 145.54 L205.82 144.49 L205.89 143.41 L205.96 142.31 L206.03 141.18 L206.10 140.03 L206.18 138.86 L206.25 137.66 L206.32 136.44 L206.39 135.19 L206.46 133.92 L206.54 132.62 L206.61 131.30 L206.68 129.95 L206.75 128.58 L206.82 127.18 L206.90 125.75 L206.97 124.30 L207.04 122.83 L207.11 121.32 L207.18 119.80 L207.26 118.24 L207.33 116.66 L207.40 115.06 L207.47 113.43 L207.54 111.77 L207.62 110.09 L207.69 108.39 L207.76 106.66 L207.83 104.90 L207.90 103.13 L207.98 101.33 L208.05 99.50 L208.12 97.66 L208.19 95.79 L208.27 93.90 L208.34 91.99 L208.41 90.07 L208.48 88.12 L208.55 86.16 L208.63 84.18 L208.70 82.18 L208.77 80.18 L208.84 78.15 L208.91 76.12 L208.99 74.08 L209.06 72.02 L209.13 69.96 L209.20 67.90 L209.27 65.83 L209.35 63.76 L209.42 61.69 L209.49 59.62 L209.56 57.55 L209.63 55.50 L209.71 53.45 L209.78 51.41 L209.85 49.38 L209.92 47.37 L209.99 45.38 L210.07 43.41 L210.14 41.46 L210.21 39.54 L210.28 37.64 L210.35 35.78 L210.43 33.96 L210.50 32.17 L210.57 30.42 L210.64 28.71 L210.71 27.05 L210.79 25.44 L210.86 23.89 L210.93 22.38 L211.00 20.94 L211.08 19.55 L211.15 18.23 L211.22 16.97 L211.29 15.78 L211.36 14.67 L211.44 13.62 L211.51 12.65 L211.58 11.76 L211.65 10.94 L211.72 10.21 L211.80 9.56 L211.87 8.99 L211.94 8.51 L212.01 8.11 L212.08 7.80 L212.16 7.58 L212.23 7.45 L212.30 7.41 L212.37 7.45 L212.44 7.58 L212.52 7.80 L212.59 8.11 L212.66 8.51 L212.73 8.99 L212.80 9.56 L212.88 10.21 L212.95 10.94 L213.02 11.76 L213.09 12.65 L213.16 13.62 L213.24 14.67 L213.31 15.78 L213.38 16.97 L213.45 18.23 L213.52 19.55 L213.60 20.94 L213.67 22.38 L213.74 23.89 L213.81 25.44 L213.89 27.05 L213.96 28.71 L214.03 30.42 L214.10 32.17 L214.17 33.96 L214.25 35.78 L214.32 37.64 L214.39 39.54 L214.46 41.46 L214.53 43.41 L214.61 45.38 L214.68 47.37 L214.75 49.38 L214.82 51.41 L214.89 53.45 L214.97 55.50 L215.04 57.55 L215.11 59.62 L215.18 61.69 L215.25 63.76 L215.33 65.83 L215.40 67.90 L215.47 69.96 L215.54 72.02 L215.61 74.08 L215.69 76.12 L215.76 78.15 L215.83 80.18 L215.90 82.18 L215.97 84.18 L216.05 86.16 L216.12 88.12 L216.19 90.07 L216.26 91.99 L216.33 93.90 L216.41 95.79 L216.48 97.66 L216.55 99.50 L216.62 101.33 L216.70 103.13 L216.77 104.90 L216.84 106.66 L216.91 108.39 L216.98 110.09 L217.06 111.77 L217.13 113.43 L217.20 115.06 L217.27 116.66 L217.34 118.24 L217.42 119.80 L217.49 121.32 L217.56 122.83 L217.63 124.30 L217.70 125.75 L217.78 127.18 L217.85 128.58 L217.92 129.95 L217.99 131.30 L218.06 132.62 L218.14 133.92 L218.21 135.19 L218.28 136.44 L218.35 137.66 L218.42 138.86 L218.50 140.03 L218.57 141.18 L218.64 142.31 L218.71 143.41 L218.78 144.49 L218.86 145.54 L218.93 146.57 L219.00 147.58 L219.07 148.57 L219.14 149.53 L219.22 150.48 L219.29 151.40 L219.36 152.30 L219.43 153.18 L219.50 154.03 L219.58 154.87 L219.65 155.69 L219.72 156.49 L219.79 157.26 L219.87 158.02 L219.94 158.76 L220.01 159.48 L220.08 160.18 L220.15 160.87 L220.23 161.53 L220.30 162.18 L220.37 162.81 L220.44 163.42 L220.51 164.02 L220.59 164.60 L220.66 165.17 L220.73 165.71 L220.80 166.24 L220.87 166.76 L220.95 167.26 L221.02 167.75 L221.09 168.22 L221.16 168.68 L221.23 169.12 L221.31 169.55 L221.38 169.96 L221.45 170.36 L221.52 170.75 L221.59 171.13 L221.67 171.49 L221.74 171.84 L221.81 172.17 L221.88 172.50 L221.95 172.81 L222.03 173.11 L222.10 173.40 L222.17 173.68 L222.24 173.94 L222.31 174.20 L222.39 174.44 L222.46 174.68 L222.53 174.90 L222.60 175.11 L222.68 175.32 L222.75 175.51 L222.82 175.69 L222.89 175.87 L222.96 176.03 L223.04 176.19 L223.11 176.33 L223.18 176.47 L223.25 176.60 L223.32 176.72 L223.40 176.83 L223.47 176.93 L223.54 177.03 L223.61 177.12 L223.68 177.20 L223.76 177.27 L223.83 177.33 L223.90 177.39 L223.97 177.44 L224.04 177.48 L224.12 177.52 L224.19 177.55 L224.26 177.57 L224.33 177.58 L224.40 177.59 L224.48 177.59 L224.55 177.59 L224.62 177.58 L224.69 177.56 L224.76 177.54 L224.84 177.51 L224.91 177.48 L224.98 177.44 L225.05 177.40 L225.12 177.35 L225.20 177.29 L225.27 177.23 L225.34 177.17 L225.41 177.10 L225.49 177.02 L225.56 176.94 L225.63 176.86 L225.70 176.77 L225.77 176.67 L225.85 176.57 L225.92 176.47 L225.99 176.36 L226.06 176.25 L226.13 176.14 L226.21 176.02 L226.28 175.89 L226.35 175.77 L226.42 175.64 L226.49 175.50 L226.57 175.36 L226.64 175.22 L226.71 175.08 L226.78 174.93 L226.85 174.78 L226.93 174.62 L227.00 174.46 L227.07 174.30 L227.14 174.13 L227.21 173.97 L227.29 173.80 L227.36 173.62 L227.43 173.44 L227.50 173.26 L227.57 173.08 L227.65 172.90 L227.72 172.71 L227.79 172.52 L227.86 172.33 L227.93 172.13 L228.01 171.93 L228.08 171.73 L228.15 171.53 L228.22 171.33 L228.30 171.12 L228.37 170.91 L228.44 170.70 L228.51 170.49 L228.58 170.27 L228.66 170.06 L228.73 169.84 L228.80 169.62 L228.87 169.39 L228.94 169.17 L229.02 168.94 L229.09 168.72 L229.16 168.49 L229.23 168.26 L229.30 168.02 L229.38 167.79 L229.45 167.55 L229.52 167.31 L229.59 167.08 L229.66 166.84 L229.74 166.59 L229.81 166.35 L229.88 166.11 L229.95 165.86 L230.02 165.61 L230.10 165.37 L230.17 165.12 L230.24 164.87 L230.31 164.61 L230.38 164.36 L230.46 164.11 L230.53 163.85 L230.60 163.60 L230.67 163.34 L230.74 163.08 L230.82 162.82 L230.89 162.56 L230.96 162.30 L231.03 162.04 L231.11 161.78 L231.18 161.51 L231.25 161.25 L231.32 160.98 L231.39 160.72 L231.47 160.45 L231.54 160.19 L231.61 159.92 L231.68 159.65 L231.75 159.38 L231.83 159.11 L231.90 158.84 L231.97 158.57 L232.04 158.30 L232.11 158.02 L232.19 157.75 L232.26 157.48 L232.33 157.20 L232.40 156.93 L232.47 156.65 L232.55 156.38 L232.62 156.10 L232.69 155.83 L232.76 155.55 L232.83 155.27 L232.91 155.00 L232.98 154.72 L233.05 154.44 L233.12 154.16 L233.19 153.88 L233.27 153.60 L233.34 153.32 L233.41 153.04 L233.48 152.76 L233.55 152.48 L233.63 152.20 L233.70 151.92 L233.77 151.64 L233.84 151.36 L233.92 151.07 L233.99 150.79 L234.06 150.51 L234.13 150.23 L234.20 149.94 L234.28 149.66 L234.35 149.38 L234.42 149.09 L234.49 148.81 L234.56 148.53 L234.64 148.24 L234.71 147.96 L234.78 147.67 L234.85 147.39 L234.92 147.10 L235.00 146.82 L235.07 146.54 L235.14 146.25 L235.21 145.97 L235.28 145.68 L235.36 145.39 L235.43 145.11 L235.50 144.82 L235.57 144.54 L235.64 144.25 L235.72 143.97 L235.79 143.68 L235.86 143.40 L235.93 143.11 L236.00 142.82 L236.08 142.54 L236.15 142.25 L236.22 141.97 L236.29 141.68 L236.36 141.39 L236.44 141.11 L236.51 140.82 L236.58 140.54 L236.65 140.25 L236.72 139.96 L236.80 139.68 L236.87 139.39 L236.94 139.10 L237.01 138.82 L237.09 138.53 L237.16 138.25 L237.23 137.96 L237.30 137.67 L237.37 137.39 L237.45 137.10 L237.52 136.82 L237.59 136.53 L237.66 136.24 L237.73 135.96 L237.81 135.67 L237.88 135.39 L237.95 135.10 L238.02 134.82 L238.09 134.53 L238.17 134.24 L238.24 133.96 L238.31 133.67 L238.38 133.39 L238.45 133.10 L238.53 132.82 L238.60 132.53 L238.67 132.25 L238.74 131.96 L238.81 131.68 L238.89 131.39 L238.96 131.11 L239.03 130.82 L239.10 130.54 L239.17 130.26 L239.25 129.97 L239.32 129.69 L239.39 129.40 L239.46 129.12 L239.53 128.84 L239.61 128.55 L239.68 128.27 L239.75 127.98 L239.82 127.70 L239.90 127.42 L239.97 127.14 L240.04 126.85 L240.11 126.57 L240.18 126.29 L240.26 126.01 L240.33 125.72 L240.40 125.44 L240.47 125.16 L240.54 124.88 L240.62 124.60 L240.69 124.32 L240.76 124.03 L240.83 123.75 L240.90 123.47 L240.98 123.19 L241.05 122.91 L241.12 122.63 L242.59 116.95 L244.07 111.40 L245.54 106.02 L247.02 100.85 L248.49 95.91 L249.96 91.25 L251.44 86.87 L252.91 82.77 L254.38 78.96 L255.86 75.41 L257.33 72.11 L258.81 69.03 L260.28 66.16 L261.75 63.48 L263.23 60.97 L264.70 58.61 L266.18 56.39 L267.65 54.30 L269.12 52.34 L270.60 50.48 L272.07 48.72 L273.54 47.06 L275.02 45.49 L276.49 44.01 L277.97 42.60 L279.44 41.26 L280.91 40.00 L282.39 38.79 L283.86 37.65 L285.33 36.56 L286.81 35.53 L288.28 34.55 L289.76 33.61 L291.23 32.72 L292.70 31.86 L294.18 31.05 L295.65 30.28 L297.13 29.54 L298.60 28.83 L300.07 28.15 L301.55 27.50 L303.02 26.88 L304.49 26.29 L305.97 25.72 L307.44 25.17 L308.92 24.65 L310.39 24.14 L311.86 23.66 L313.34 23.20 L314.81 22.75 L316.29 22.32 L317.76 21.91 L319.23 21.51 L320.71 21.13 L322.18 20.76 L323.65 20.41 L325.13 20.07 L326.60 19.73 L328.08 19.42 L329.55 19.11 L331.02 18.81 L332.50 18.53 L333.97 18.25 L335.45 17.98 L336.92 17.72 L338.39 17.47 L339.87 17.23 L341.34 16.99 L342.81 16.77 L344.29 16.55 L345.76 16.33 L347.24 16.12 L348.71 15.92 L350.18 15.73 L351.66 15.54 L353.13 15.36 L354.61 15.18 L356.08 15.01 L357.55 14.84" stroke="#000" stroke-width="2.2" stroke-dasharray="2.8 2.6 5.6 2.6" clip-path="url(#ct)"/>
<path d="M67.05 349.00 L69.02 348.84 L70.99 348.68 L72.97 348.51 L74.94 348.34 L76.91 348.16 L78.89 347.98 L80.86 347.79 L82.83 347.60 L84.81 347.40 L86.78 347.19 L88.76 346.98 L90.73 346.76 L92.70 346.54 L94.68 346.31 L96.65 346.07 L98.62 345.82 L100.60 345.57 L102.57 345.30 L104.54 345.03 L106.52 344.75 L108.49 344.46 L110.46 344.16 L112.44 343.84 L114.41 343.52 L116.38 343.18 L118.36 342.83 L120.33 342.47 L122.30 342.10 L124.28 341.70 L126.25 341.29 L128.22 340.87 L130.20 340.43 L132.17 339.96 L134.14 339.48 L136.12 338.98 L138.09 338.45 L140.06 337.90 L142.04 337.32 L144.01 336.71 L145.98 336.07 L147.96 335.40 L149.93 334.70 L151.91 333.96 L153.88 333.18 L155.85 332.35 L157.83 331.48 L159.80 330.56 L161.77 329.59 L163.75 328.55 L165.72 327.46 L167.69 326.29 L169.67 325.05 L171.64 323.73 L173.61 322.32 L175.59 320.82 L177.56 319.21 L179.53 317.50 L181.51 315.65 L183.48 313.68 L183.48 313.68 L184.07 313.06 L184.65 312.44 L185.22 311.81 L185.78 311.19 L186.32 310.57 L186.86 309.95 L187.38 309.33 L187.89 308.71 L188.40 308.09 L188.89 307.48 L189.37 306.86 L189.84 306.25 L190.30 305.64 L190.76 305.03 L191.20 304.42 L191.63 303.82 L192.06 303.21 L192.47 302.61 L192.88 302.02 L193.28 301.42 L193.67 300.83 L194.06 300.24 L194.43 299.65 L194.80 299.07 L195.16 298.49 L195.51 297.92 L195.86 297.34 L196.20 296.77 L196.53 296.21 L196.85 295.64 L197.17 295.08 L197.48 294.53 L197.79 293.97 L198.08 293.42 L198.38 292.88 L198.66 292.33 L198.94 291.80 L199.22 291.26 L199.49 290.73 L199.75 290.20 L200.01 289.67 L200.26 289.15 L200.51 288.63 L200.75 288.11 L200.99 287.60 L201.22 287.09 L201.45 286.58 L201.67 286.07 L201.89 285.57 L202.11 285.07 L202.32 284.57 L202.52 284.07 L202.72 283.58 L202.92 283.09 L203.11 282.60 L203.30 282.11 L203.49 281.63 L203.67 281.14 L203.84 280.66 L204.02 280.18 L204.19 279.70 L204.36 279.22 L204.52 278.75 L204.68 278.27 L204.84 277.79 L204.99 277.32 L205.14 276.84 L205.29 276.37 L205.43 275.90 L205.57 275.42 L205.71 274.95 L205.85 274.48 L205.98 274.00 L206.11 273.53 L206.24 273.05 L206.36 272.58 L206.48 272.10 L206.60 271.62 L206.72 271.15 L206.84 270.67 L206.95 270.19 L207.06 269.70 L207.17 269.22 L207.27 268.73 L207.37 268.25 L207.48 267.76 L207.58 267.27 L207.67 266.77 L207.77 266.28 L207.86 265.78 L207.95 265.28 L208.04 264.77 L208.13 264.27 L208.22 263.76 L208.30 263.25 L208.38 262.73 L208.46 262.21 L208.54 261.69 L208.62 261.17 L208.69 260.64 L208.77 260.11 L208.84 259.58 L208.91 259.04 L208.98 258.50 L209.05 257.95 L209.12 257.40 L209.18 256.85 L209.25 256.29 L209.31 255.74 L209.37 255.17 L209.43 254.61 L209.49 254.03 L209.55 253.46 L209.60 252.88 L209.66 252.30 L209.71 251.72 L209.77 251.13 L209.82 250.53 L209.87 249.94 L209.92 249.34 L209.97 248.74 L210.02 248.13 L210.06 247.53 L210.11 246.91 L210.16 246.30 L210.20 245.68 L210.24 245.06 L210.28 244.44 L210.33 243.82 L210.37 243.19 L210.41 242.57 L210.45 241.94 L210.48 241.31 L210.52 240.67 L210.56 240.04 L210.59 239.41 L210.63 238.77 L210.66 238.13 L210.70 237.50 L210.73 236.86 L210.76 236.23 L210.79 235.59 L210.82 234.95 L210.86 234.32 L210.88 233.69 L210.91 233.05 L210.94 232.42 L210.97 231.79 L211.00 231.17 L211.02 230.54 L211.05 229.92 L211.08 229.30 L211.10 228.68 L211.13 228.07 L211.15 227.46 L211.17 226.85 L211.20 226.25 L211.22 225.65 L211.24 225.05 L211.26 224.46 L211.29 223.87 L211.31 223.29 L211.33 222.71 L211.35 222.14 L211.37 221.57 L211.39 221.01 L211.40 220.45 L211.42 219.90 L211.44 219.35 L211.46 218.81 L211.48 218.28 L211.49 217.75 L211.51 217.23 L211.53 216.71 L211.54 216.20 L211.56 215.70 L211.57 215.20 L211.59 214.71 L211.60 214.22 L211.62 213.74 L211.63 213.27 L211.64 212.81 L211.66 212.35 L211.67 211.90 L211.68 211.45 L211.70 211.01 L211.71 210.58 L211.72 210.15 L211.73 209.73 L211.74 209.32 L211.76 208.91 L211.77 208.51 L211.78 208.12 L211.79 207.73 L211.80 207.35 L211.81 206.97 L211.82 206.60 L211.83 206.24 L211.84 205.88 L211.85 205.53 L211.86 205.19 L211.87 204.85 L211.88 204.52 L211.88 204.19 L211.89 203.87 L211.90 203.56 L211.91 203.25 L211.92 202.94 L211.93 202.64 L211.93 202.35 L211.94 202.06 L211.95 201.78 L211.96 201.50 L211.96 201.23 L211.97 200.96 L211.98 200.70 L211.98 200.44 L211.99 200.19 L212.00 199.95 L212.00 199.70 L212.01 199.46 L212.01 199.23 L212.02 199.00 L212.03 198.78 L212.03 198.56 L212.04 198.34 L212.04 198.13 L212.05 197.92 L212.05 197.72 L212.06 197.52 L212.06 197.32 L212.07 197.13 L212.07 196.94 L212.08 196.76 L212.08 196.58 L212.09 196.40 L212.09 196.22 L212.10 196.05 L212.10 195.89 L212.10 195.72 L212.11 195.56 L212.11 195.41 L212.12 195.25 L212.12 195.10 L212.12 194.95 L212.13 194.81 L212.13 194.67 L212.13 194.53 L212.14 194.39 L212.14 194.26 L212.14 194.13 L212.15 194.00 L212.15 193.87 L212.15 193.75 L212.16 193.63 L212.16 193.51 L212.16 193.39 L212.16 193.28 L212.17 193.17 L212.17 193.06 L212.17 192.95 L212.18 192.85 L212.18 192.75 L212.18 192.65 L212.18 192.55 L212.19 192.45 L212.19 192.36 L212.19 192.26 L212.19 192.17 L212.19 192.08 L212.20 192.00 L212.20 191.91 L212.20 191.83 L212.20 191.75 L212.21 191.67 L212.21 191.59 L212.21 191.51 L212.21 191.44 L212.21 191.36 L212.21 191.29 L212.22 191.22 L212.22 191.15 L212.22 191.08 L212.22 191.02 L212.22 190.95 L212.22 190.89 L212.23 190.83 L212.23 190.76 L212.23 190.70 L212.23 190.65 L212.23 190.59 L212.23 190.53 L212.23 190.48 L212.24 190.42 L212.24 190.37 L212.24 190.32 L212.24 190.27 L212.24 190.22 L212.24 190.17 L212.30 188.22 L212.30 356.72 L212.36 356.72 L212.36 356.72 L212.36 356.72 L212.36 356.72 L212.36 356.72 L212.36 356.72 L212.37 356.72 L212.37 356.72 L212.37 356.72 L212.37 356.72 L212.37 356.72 L212.37 356.72 L212.37 356.72 L212.38 356.72 L212.38 356.72 L212.38 356.72 L212.38 356.72 L212.38 356.72 L212.38 356.72 L212.39 356.72 L212.39 356.72 L212.39 356.72 L212.39 356.72 L212.39 356.72 L212.39 356.72 L212.40 356.72 L212.40 356.72 L212.40 356.72 L212.40 356.72 L212.41 356.72 L212.41 356.63 L212.41 356.54 L212.41 356.45 L212.41 356.36 L212.42 356.26 L212.42 356.16 L212.42 356.06 L212.42 355.96 L212.43 355.86 L212.43 355.75 L212.43 355.64 L212.44 355.53 L212.44 355.42 L212.44 355.30 L212.44 355.19 L212.45 355.07 L212.45 354.94 L212.45 354.82 L212.46 354.69 L212.46 354.56 L212.46 354.43 L212.47 354.29 L212.47 354.15 L212.47 354.01 L212.48 353.87 L212.48 353.72 L212.48 353.57 L212.49 353.42 L212.49 353.26 L212.50 353.10 L212.50 352.94 L212.50 352.77 L212.51 352.61 L212.51 352.43 L212.52 352.26 L212.52 352.08 L212.53 351.89 L212.53 351.71 L212.54 351.52 L212.54 351.32 L212.55 351.12 L212.55 350.92 L212.56 350.72 L212.56 350.51 L212.57 350.29 L212.57 350.07 L212.58 349.85 L212.59 349.62 L212.59 349.39 L212.60 349.16 L212.60 348.92 L212.61 348.67 L212.62 348.42 L212.62 348.17 L212.63 347.91 L212.64 347.65 L212.64 347.38 L212.65 347.10 L212.66 346.82 L212.67 346.54 L212.67 346.25 L212.68 345.95 L212.69 345.65 L212.70 345.35 L212.71 345.04 L212.72 344.72 L212.72 344.40 L212.73 344.07 L212.74 343.74 L212.75 343.40 L212.76 343.05 L212.77 342.70 L212.78 342.34 L212.79 341.98 L212.80 341.61 L212.81 341.23 L212.82 340.85 L212.83 340.47 L212.84 340.07 L212.86 339.67 L212.87 339.27 L212.88 338.85 L212.89 338.43 L212.90 338.01 L212.92 337.58 L212.93 337.14 L212.94 336.69 L212.96 336.24 L212.97 335.79 L212.98 335.32 L213.00 334.85 L213.01 334.38 L213.03 333.90 L213.04 333.41 L213.06 332.92 L213.07 332.42 L213.09 331.91 L213.11 331.40 L213.12 330.88 L213.14 330.36 L213.16 329.83 L213.18 329.30 L213.20 328.76 L213.21 328.21 L213.23 327.66 L213.25 327.11 L213.27 326.55 L213.29 325.98 L213.31 325.41 L213.34 324.84 L213.36 324.26 L213.38 323.68 L213.40 323.09 L213.43 322.50 L213.45 321.91 L213.47 321.31 L213.50 320.71 L213.52 320.11 L213.55 319.51 L213.58 318.90 L213.60 318.29 L213.63 317.68 L213.66 317.06 L213.69 316.45 L213.72 315.83 L213.74 315.21 L213.78 314.59 L213.81 313.97 L213.84 313.35 L213.87 312.73 L213.90 312.11 L213.94 311.48 L213.97 310.86 L214.01 310.24 L214.04 309.62 L214.08 309.00 L214.12 308.38 L214.15 307.77 L214.19 307.15 L214.23 306.54 L214.27 305.93 L214.32 305.32 L214.36 304.71 L214.40 304.10 L214.44 303.50 L214.49 302.90 L214.54 302.30 L214.58 301.70 L214.63 301.11 L214.68 300.52 L214.73 299.93 L214.78 299.34 L214.83 298.76 L214.89 298.19 L214.94 297.61 L215.00 297.04 L215.05 296.47 L215.11 295.91 L215.17 295.34 L215.23 294.79 L215.29 294.23 L215.35 293.68 L215.42 293.13 L215.48 292.59 L215.55 292.05 L215.62 291.51 L215.69 290.98 L215.76 290.44 L215.83 289.92 L215.91 289.39 L215.98 288.87 L216.06 288.35 L216.14 287.84 L216.22 287.32 L216.30 286.82 L216.38 286.31 L216.47 285.80 L216.56 285.30 L216.65 284.80 L216.74 284.31 L216.83 283.81 L216.93 283.32 L217.02 282.83 L217.12 282.34 L217.23 281.86 L217.33 281.37 L217.43 280.89 L217.54 280.41 L217.65 279.93 L217.76 279.45 L217.88 278.97 L218.00 278.49 L218.12 278.02 L218.24 277.54 L218.36 277.07 L218.49 276.59 L218.62 276.12 L218.75 275.65 L218.89 275.17 L219.03 274.70 L219.17 274.22 L219.31 273.75 L219.46 273.28 L219.61 272.80 L219.76 272.33 L219.92 271.85 L220.08 271.37 L220.24 270.89 L220.41 270.41 L220.58 269.93 L220.76 269.45 L220.93 268.96 L221.11 268.48 L221.30 267.99 L221.49 267.50 L221.68 267.00 L221.88 266.51 L222.08 266.01 L222.28 265.51 L222.49 265.01 L222.71 264.51 L222.93 264.00 L223.15 263.49 L223.38 262.97 L223.61 262.46 L223.85 261.94 L224.09 261.42 L224.34 260.89 L224.59 260.36 L224.85 259.83 L225.11 259.29 L225.38 258.75 L225.66 258.21 L225.94 257.66 L226.22 257.11 L226.52 256.56 L226.81 256.00 L227.12 255.44 L227.43 254.87 L227.75 254.30 L228.07 253.73 L228.40 253.15 L228.74 252.57 L229.09 251.99 L229.44 251.40 L229.80 250.81 L230.17 250.22 L230.54 249.62 L230.93 249.02 L231.32 248.42 L231.72 247.81 L232.13 247.20 L232.54 246.59 L232.97 245.97 L233.40 245.36 L233.84 244.74 L234.30 244.11 L234.76 243.49 L235.23 242.86 L235.71 242.23 L236.20 241.60 L236.71 240.97 L237.22 240.34 L237.74 239.70 L238.28 239.07 L238.82 238.43 L239.38 237.80 L239.95 237.16 L240.53 236.52 L241.12 235.89 L241.12 235.89 L243.09 233.86 L245.07 231.98 L247.04 230.22 L249.01 228.57 L250.99 227.03 L252.96 225.59 L254.93 224.24 L256.91 222.97 L258.88 221.78 L260.85 220.66 L262.83 219.60 L264.80 218.61 L266.77 217.66 L268.75 216.78 L270.72 215.93 L272.69 215.14 L274.67 214.38 L276.64 213.66 L278.62 212.98 L280.59 212.33 L282.56 211.71 L284.54 211.12 L286.51 210.56 L288.48 210.02 L290.46 209.51 L292.43 209.02 L294.40 208.55 L296.38 208.10 L298.35 207.67 L300.32 207.25 L302.30 206.85 L304.27 206.47 L306.24 206.10 L308.22 205.75 L310.19 205.41 L312.16 205.08 L314.14 204.76 L316.11 204.46 L318.08 204.16 L320.06 203.88 L322.03 203.60 L324.00 203.33 L325.98 203.08 L327.95 202.83 L329.92 202.59 L331.90 202.35 L333.87 202.12 L335.84 201.90 L337.82 201.69 L339.79 201.48 L341.77 201.28 L343.74 201.09 L345.71 200.90 L347.69 200.71 L349.66 200.53 L351.63 200.36 L353.61 200.19 L355.58 200.02 L357.55 199.86" stroke="#000" stroke-width="1.95" stroke-linecap="round"/>
</g>
<path d="M62.4 2.4H362.6V362.4H62.4ZM62.40 182.40L362.60 182.40M68.20 2.40L68.20 5.80M68.20 179.00L68.20 185.80M68.20 362.40L68.20 359.00M82.61 2.40L82.61 4.30M82.61 180.50L82.61 184.30M82.61 362.40L82.61 360.50M97.02 2.40L97.02 4.30M97.02 180.50L97.02 184.30M97.02 362.40L97.02 360.50M111.43 2.40L111.43 4.30M111.43 180.50L111.43 184.30M111.43 362.40L111.43 360.50M125.84 2.40L125.84 4.30M125.84 180.50L125.84 184.30M125.84 362.40L125.84 360.50M140.25 2.40L140.25 5.80M140.25 179.00L140.25 185.80M140.25 362.40L140.25 359.00M154.66 2.40L154.66 4.30M154.66 180.50L154.66 184.30M154.66 362.40L154.66 360.50M169.07 2.40L169.07 4.30M169.07 180.50L169.07 184.30M169.07 362.40L169.07 360.50M183.48 2.40L183.48 4.30M183.48 180.50L183.48 184.30M183.48 362.40L183.48 360.50M197.89 2.40L197.89 4.30M197.89 180.50L197.89 184.30M197.89 362.40L197.89 360.50M212.30 2.40L212.30 5.80M212.30 179.00L212.30 185.80M212.30 362.40L212.30 359.00M226.71 2.40L226.71 4.30M226.71 180.50L226.71 184.30M226.71 362.40L226.71 360.50M241.12 2.40L241.12 4.30M241.12 180.50L241.12 184.30M241.12 362.40L241.12 360.50M255.53 2.40L255.53 4.30M255.53 180.50L255.53 184.30M255.53 362.40L255.53 360.50M269.94 2.40L269.94 4.30M269.94 180.50L269.94 184.30M269.94 362.40L269.94 360.50M284.35 2.40L284.35 5.80M284.35 179.00L284.35 185.80M284.35 362.40L284.35 359.00M298.76 2.40L298.76 4.30M298.76 180.50L298.76 184.30M298.76 362.40L298.76 360.50M313.17 2.40L313.17 4.30M313.17 180.50L313.17 184.30M313.17 362.40L313.17 360.50M327.58 2.40L327.58 4.30M327.58 180.50L327.58 184.30M327.58 362.40L327.58 360.50M341.99 2.40L341.99 4.30M341.99 180.50L341.99 184.30M341.99 362.40L341.99 360.50M356.40 2.40L356.40 5.80M356.40 179.00L356.40 185.80M356.40 362.40L356.40 359.00M62.40 178.40L65.80 178.40M362.60 178.40L359.20 178.40M62.40 167.65L64.30 167.65M362.60 167.65L360.70 167.65M62.40 156.90L64.30 156.90M362.60 156.90L360.70 156.90M62.40 146.15L64.30 146.15M362.60 146.15L360.70 146.15M62.40 135.40L65.80 135.40M362.60 135.40L359.20 135.40M62.40 124.65L64.30 124.65M362.60 124.65L360.70 124.65M62.40 113.90L64.30 113.90M362.60 113.90L360.70 113.90M62.40 103.15L64.30 103.15M362.60 103.15L360.70 103.15M62.40 92.40L65.80 92.40M362.60 92.40L359.20 92.40M62.40 81.65L64.30 81.65M362.60 81.65L360.70 81.65M62.40 70.90L64.30 70.90M362.60 70.90L360.70 70.90M62.40 60.15L64.30 60.15M362.60 60.15L360.70 60.15M62.40 49.40L65.80 49.40M362.60 49.40L359.20 49.40M62.40 38.65L64.30 38.65M362.60 38.65L360.70 38.65M62.40 27.90L64.30 27.90M362.60 27.90L360.70 27.90M62.40 17.15L64.30 17.15M362.60 17.15L360.70 17.15M62.40 6.40L65.80 6.40M362.60 6.40L359.20 6.40M62.40 357.05L65.80 357.05M362.60 357.05L359.20 357.05M62.40 351.54L64.30 351.54M362.60 351.54L360.70 351.54M62.40 346.03L64.30 346.03M362.60 346.03L360.70 346.03M62.40 340.52L64.30 340.52M362.60 340.52L360.70 340.52M62.40 335.01L64.30 335.01M362.60 335.01L360.70 335.01M62.40 329.50L65.80 329.50M362.60 329.50L359.20 329.50M62.40 323.99L64.30 323.99M362.60 323.99L360.70 323.99M62.40 318.48L64.30 318.48M362.60 318.48L360.70 318.48M62.40 312.97L64.30 312.97M362.60 312.97L360.70 312.97M62.40 307.46L64.30 307.46M362.60 307.46L360.70 307.46M62.40 301.95L65.80 301.95M362.60 301.95L359.20 301.95M62.40 296.44L64.30 296.44M362.60 296.44L360.70 296.44M62.40 290.93L64.30 290.93M362.60 290.93L360.70 290.93M62.40 285.42L64.30 285.42M362.60 285.42L360.70 285.42M62.40 279.91L64.30 279.91M362.60 279.91L360.70 279.91M62.40 274.40L65.80 274.40M362.60 274.40L359.20 274.40M62.40 268.89L64.30 268.89M362.60 268.89L360.70 268.89M62.40 263.38L64.30 263.38M362.60 263.38L360.70 263.38M62.40 257.87L64.30 257.87M362.60 257.87L360.70 257.87M62.40 252.36L64.30 252.36M362.60 252.36L360.70 252.36M62.40 246.85L65.80 246.85M362.60 246.85L359.20 246.85M62.40 241.34L64.30 241.34M362.60 241.34L360.70 241.34M62.40 235.83L64.30 235.83M362.60 235.83L360.70 235.83M62.40 230.32L64.30 230.32M362.60 230.32L360.70 230.32M62.40 224.81L64.30 224.81M362.60 224.81L360.70 224.81M62.40 219.30L65.80 219.30M362.60 219.30L359.20 219.30M62.40 213.79L64.30 213.79M362.60 213.79L360.70 213.79M62.40 208.28L64.30 208.28M362.60 208.28L360.70 208.28M62.40 202.77L64.30 202.77M362.60 202.77L360.70 202.77M62.40 197.26L64.30 197.26M362.60 197.26L360.70 197.26M62.40 191.75L65.80 191.75M362.60 191.75L359.20 191.75M62.40 186.24L64.30 186.24M362.60 186.24L360.70 186.24" fill="none" stroke="#444" stroke-width="0.7"/>
<g fill="none"><path d="M70.0 116.8H90.7" stroke="#0000ff" stroke-width="1.6"/>
<path d="M70.0 142.7H90.7" stroke="#808080" stroke-width="1.5" stroke-dasharray="5.8 2.6"/>
<path d="M70.0 168.7H90.7" stroke="#000" stroke-width="1.9" stroke-dasharray="2.8 2.5 5.6 2.8 2.6 2.7 5.6 2.6"/></g>
<g font-family="'Liberation Serif', serif" font-weight="bold" font-size="14.5px" fill="#000">
<text transform="translate(98.60 120.90) scale(1 0.99)" font-size="15px">g<tspan font-size="9.6px" dy="2.1">0</tspan></text>
<rect x="111.85" y="113.90" width="8.4" height="1.6"/><rect x="111.85" y="117.70" width="8.4" height="1.6"/>
<text transform="translate(120.80 121.20) scale(1 1.115)" font-size="14.65px">0</text>
<text transform="translate(98.60 146.80) scale(1 0.99)" font-size="15px">g<tspan font-size="9.6px" dy="2.1">0</tspan></text>
<rect x="111.85" y="139.80" width="8.4" height="1.6"/><rect x="111.85" y="143.60" width="8.4" height="1.6"/>
<text transform="translate(120.80 147.10) scale(1 1.115)" font-size="14.65px">0.05 MHz</text>
<text transform="translate(98.60 172.80) scale(1 0.99)" font-size="15px">g<tspan font-size="9.6px" dy="2.1">0</tspan></text>
<rect x="111.85" y="165.80" width="8.4" height="1.6"/><rect x="111.85" y="169.60" width="8.4" height="1.6"/>
<text transform="translate(120.80 173.10) scale(1 1.115)" font-size="14.65px">0.1 MHz</text>
<text transform="translate(68.80 32.80) scale(1 1.04)">(a)</text>
<text transform="translate(66.50 200.10) scale(1 1.04)">(b)</text>
<text transform="translate(58.70 11.50) scale(1 1.07)" text-anchor="end">1.0</text>
<text transform="translate(58.70 54.50) scale(1 1.07)" text-anchor="end">0.8</text>
<text transform="translate(58.70 97.50) scale(1 1.07)" text-anchor="end">0.6</text>
<text transform="translate(58.70 140.50) scale(1 1.07)" text-anchor="end">0.4</text>
<text transform="translate(58.70 183.50) scale(1 1.07)" text-anchor="end">0.2</text>
<text transform="translate(58.70 196.85) scale(1 1.07)" text-anchor="end">1.5</text>
<text transform="translate(58.70 224.40) scale(1 1.07)" text-anchor="end">1.0</text>
<text transform="translate(58.70 251.95) scale(1 1.07)" text-anchor="end">0.5</text>
<text transform="translate(58.70 279.50) scale(1 1.07)" text-anchor="end">0.0</text>
<text transform="translate(58.70 307.05) scale(1 1.07)" text-anchor="end">0.5</text>
<rect x="29.77" y="301.82" width="8.6" height="1.45"/>
<text transform="translate(58.70 334.60) scale(1 1.07)" text-anchor="end">1.0</text>
<rect x="29.77" y="329.38" width="8.6" height="1.45"/>
<text transform="translate(58.70 362.15) scale(1 1.07)" text-anchor="end">1.5</text>
<rect x="29.77" y="356.92" width="8.6" height="1.45"/>
<rect x="53.74" y="374.97" width="8.6" height="1.45"/>
<text transform="translate(64.54 380.20) scale(1 1.07)">1.0</text>
<rect x="125.79" y="374.97" width="8.6" height="1.45"/>
<text transform="translate(136.59 380.20) scale(1 1.07)">0.5</text>
<text transform="translate(212.30 380.20) scale(1 1.07)" text-anchor="middle">0.0</text>
<text transform="translate(284.35 380.20) scale(1 1.07)" text-anchor="middle">0.5</text>
<text transform="translate(356.40 380.20) scale(1 1.07)" text-anchor="middle">1.0</text>
<rect x="17.1" y="101.9" width="12.3" height="1.8"/>
<rect x="15.2" y="86.0" width="14.8" height="2.0"/>
<text transform="translate(27.1 101.4) rotate(-90)" font-size="15px" font-style="italic">t</text>
<text transform="translate(29.1 96.2) rotate(-90)" font-size="10.3px" font-style="italic">p</text>
<text transform="translate(21.4 86.0) rotate(-90)" font-size="10.3px">2</text>
<text transform="translate(17.6 278.3) rotate(-90)" font-size="15px" font-style="italic">ϕ<tspan font-size="9.6px" dy="2.9" dx="0.3">t</tspan></text>
<text x="197.5" y="405.2" font-size="15.4px"><tspan font-style="italic">δ</tspan>/<tspan font-style="italic">ω</tspan><tspan font-size="10.3px" dy="3.0" dx="0.5">1</tspan></text>
<rect x="197.6" y="391.8" width="10.2" height="1.6"/>
</g>
</svg>
</body></html>
